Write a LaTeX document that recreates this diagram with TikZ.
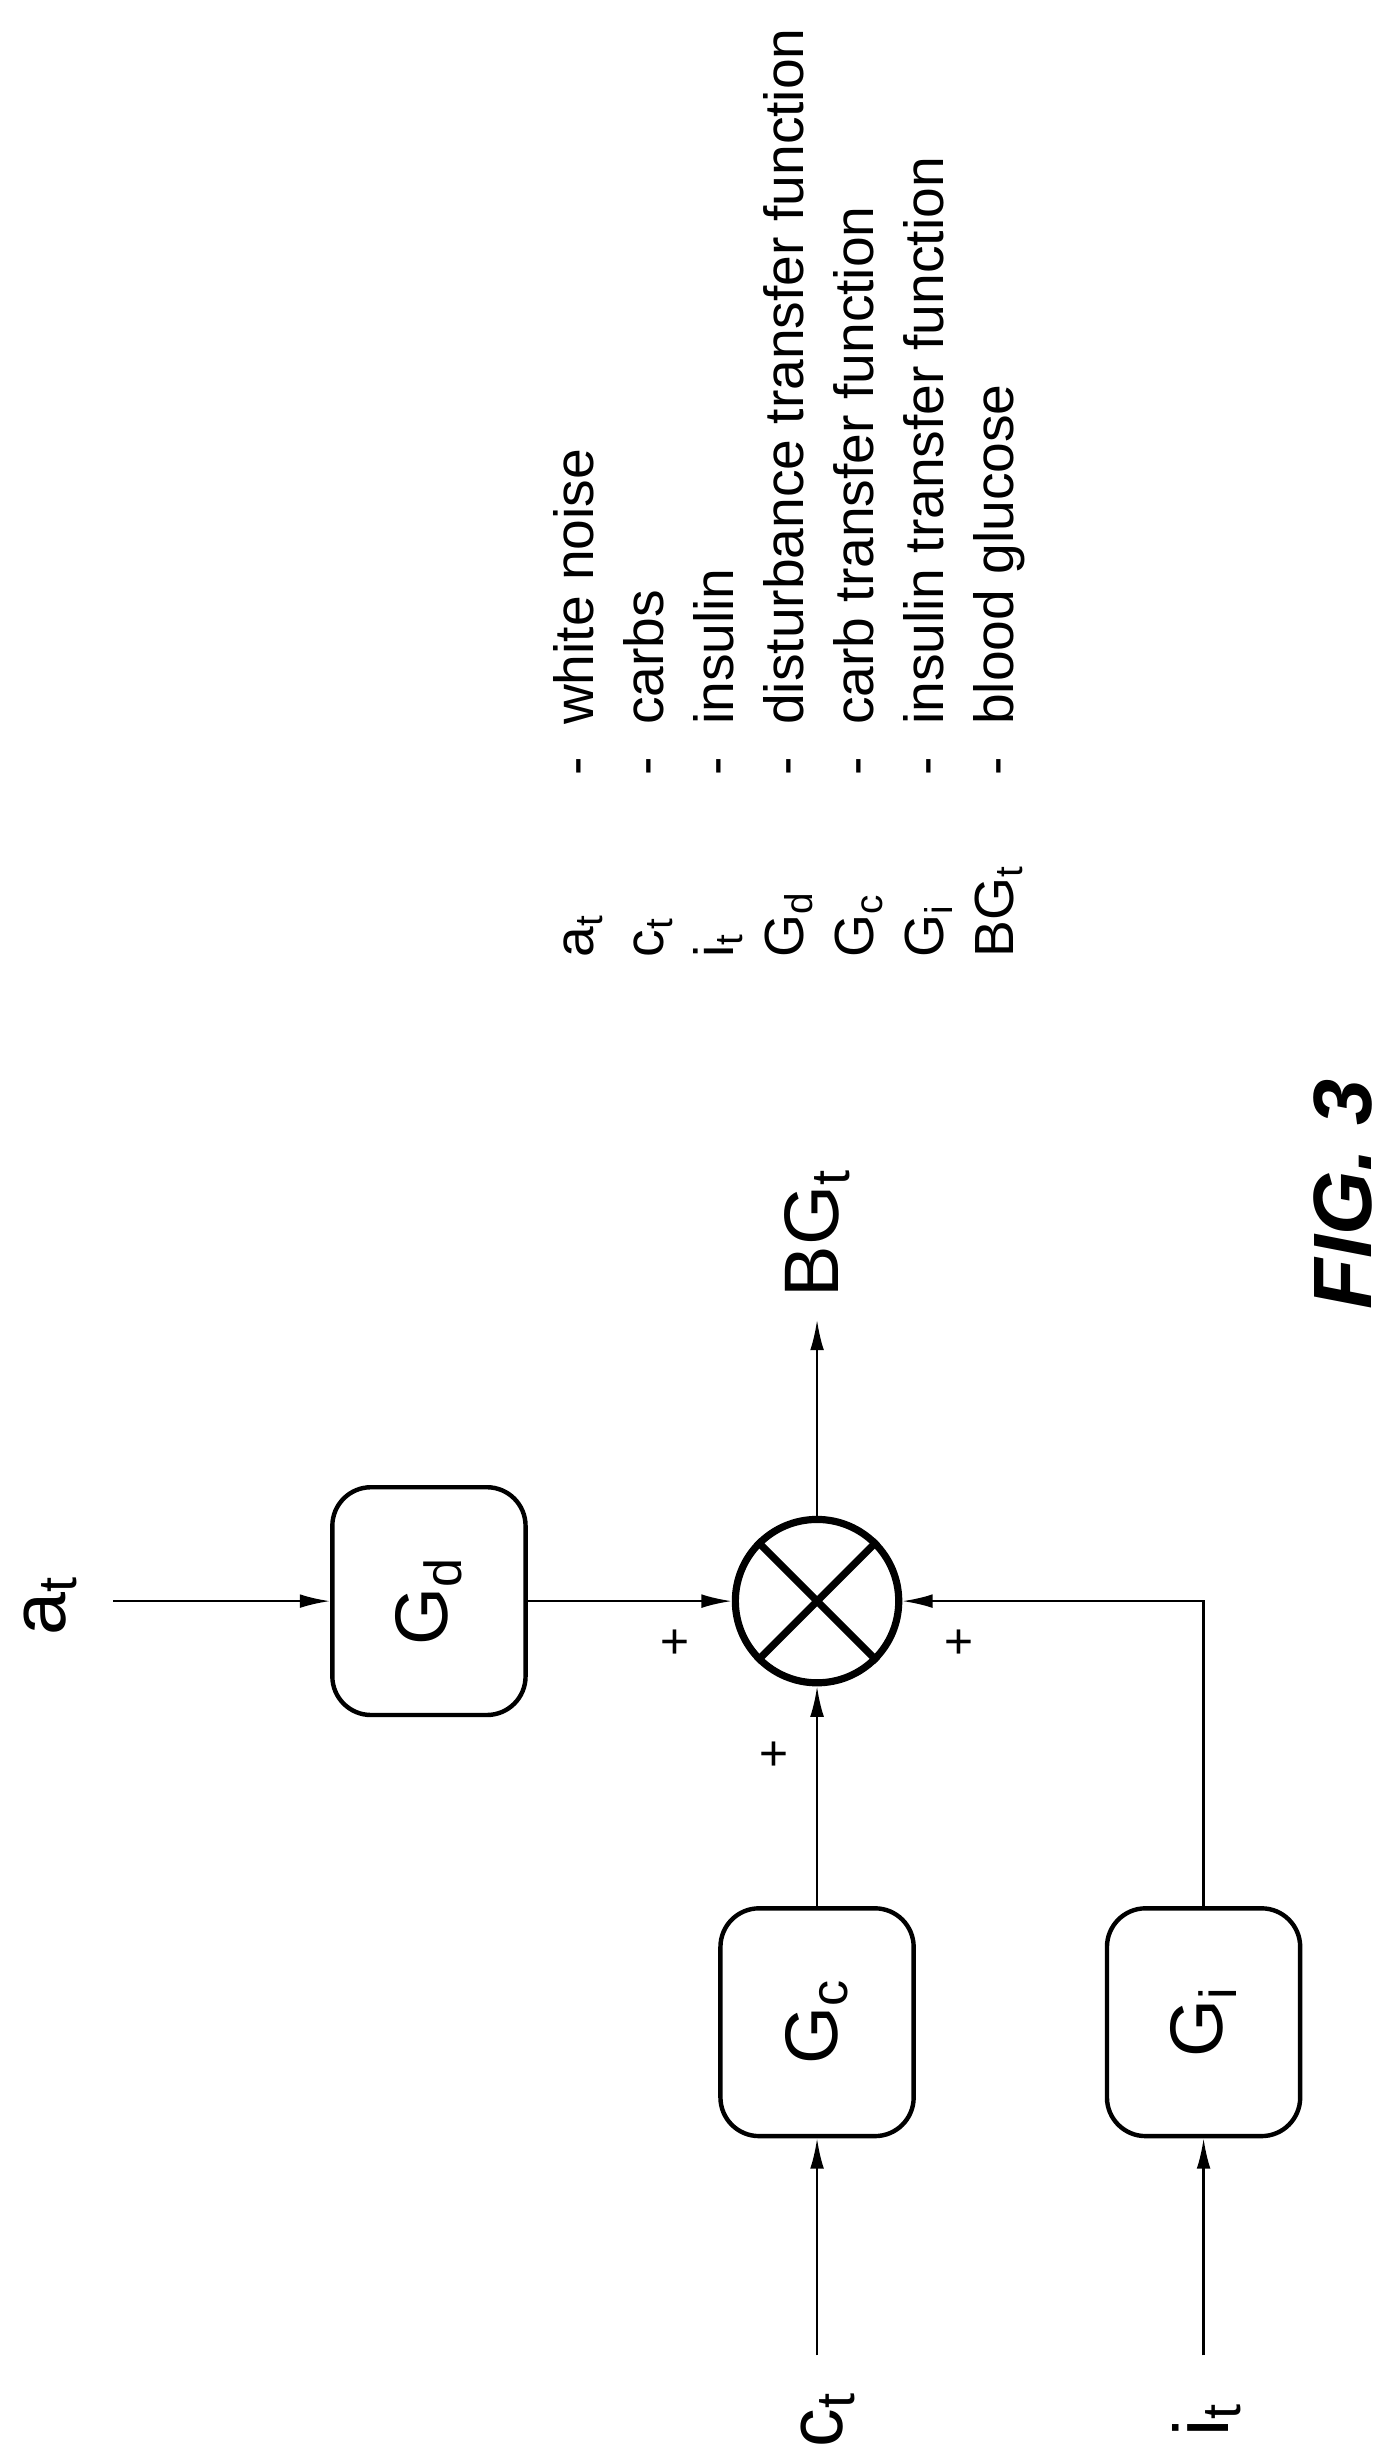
\documentclass[tikz,border=0pt]{standalone}
\usepackage{fontspec}
\setmainfont{Liberation Sans}
\usepackage{tikz}
\usetikzlibrary{arrows.meta}

\tikzset{
  tf/.style={rectangle,rounded corners=14pt,draw,line width=1.6pt,rotate=90,
    minimum width=2.9cm,minimum height=2.46cm,font=\fontsize{27}{30}\selectfont},
  lbl/.style={rotate=90,font=\fontsize{28}{32}\selectfont},
  sgn/.style={rotate=90,font=\fontsize{18}{20}\selectfont},
  leg/.style={rotate=90,anchor=base west,font=\fontsize{20}{23}\selectfont},
  >={Latex[length=11pt,width=5pt]}
}

\begin{document}
\begin{tikzpicture}[x=0.02cm,y=-0.02cm,line width=0.9pt]
	\useasboundingbox (0,0) rectangle (890,1565);
	
		\node[lbl] (a) at (32,1022) {a\textsubscript{t}};
		\node[lbl] (c) at (527,1540) {c\textsubscript{t}};
		\node[lbl] (i) at (768,1540) {i\textsubscript{t}};
		\node[tf] (gd) at (273,1019) {G\textsubscript{d}};
		\node[tf] (gc) at (520,1287) {G\textsubscript{c}};
		\node[tf] (gi) at (766,1287) {G\textsubscript{i}};
		\node[circle,draw,line width=2.6pt,minimum size=2.08cm] (sum) at (520,1019) {};
		\draw[line width=2.6pt] (sum.north west) -- (sum.south east)
			(sum.north east) -- (sum.south west);
		\node[lbl] (bg) at (520,785) {BG\textsubscript{t}};
		\coordinate (aa) at (72,1019);
		\coordinate (cc) at (520,1499);
		\coordinate (ii) at (766,1499);
		\coordinate (bb) at (520,840);
		
		\path[->] (aa) edge (gd.north);
		\path[->] (cc) edge (gc.west);
		\path[->] (ii) edge (gi.west);
		\path[->] (gd.south) edge (sum.west);
		\path[->] (gc.east) edge (sum.south);
		\draw[->] (gi.east) |- (sum.east);
		\path[->] (sum.north) edge (bb);
		\node[sgn] (p1) at (431,1045) {+};
		\node[sgn] (p2) at (494,1116) {+};
		\node[sgn] (p3) at (612,1045) {+};
		
		\node[rotate=90,font=\fontsize{30}{34}\bfseries\itshape\selectfont] (fig) at (855,760) {FIG. 3};
		
		% legend
		\foreach \s/\t [count=\k from 0] in {a\textsubscript{t}/white noise,
			c\textsubscript{t}/carbs,i\textsubscript{t}/insulin,
			G\textsubscript{d}/disturbance transfer function,
			G\textsubscript{c}/carb transfer function,
			G\textsubscript{i}/insulin transfer function,
			BG\textsubscript{t}/blood glucose}{
			\node[leg] (sym\k) at (378+44.5*\k,616) {\s};
			\node[leg] (dash\k) at (378+44.5*\k,500) {-};
			\node[leg] (txt\k) at (378+44.5*\k,468) {\t};
		}
		
	\end{tikzpicture}
\end{document}
